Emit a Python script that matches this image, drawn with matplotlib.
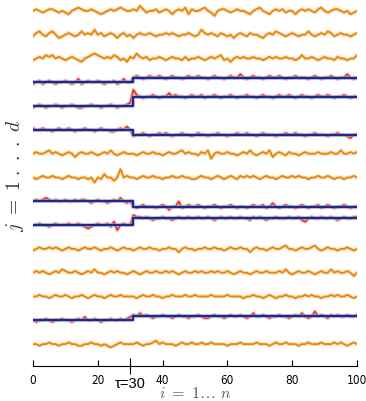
import matplotlib
matplotlib.use("Agg")
import matplotlib.pyplot as plt
import numpy as np

plt.rcParams['mathtext.fontset'] = 'cm'

# change point and x ticks
tau = 30
xticks = [0, 20, 40, 60, 80, 100]

# rows that have a change in mean (0 = top row) and their mean after tau
change_rows = [3, 4, 5, 8, 9, 13]
mean_after = [0.2, 0.4, -0.2, -0.22, 0.28, 0.16]

# noise, one list per row (top to bottom)
row01 = [0, 1, 0, -1, 0, 1, 1, 0, -1, 0, -1, -2, 0, 1, 2, 1, 0, 0, 1, 0,
         -1, -2, -1, 0, 1, 0, 1, 2, 1, 0, 0, 1, 0, 3, 1, -1, 0, 0, 1, -1,
         0, 1, 0, -2, 0, 1, 0, 2, -2, 1, 0, 0, 1, 2, 0, -1, -3, 0, 1, 1,
         0, -1, 0, 1, 0, 0, -1, -2, 0, 1, 2, 0, -1, -2, 0, 1, 0, 1, -1, 0,
         0, -2, 0, 1, 0, 1, 0, -1, 1, 2, 0, -1, 0, 1, 1, 0, -1, 0, -2, -1, 0]
row02 = [-1, 1, 2, 0, -1, 1, 2, 0, -2, -1, 0, 1, 0, -1, 0, 2, 0, 1, 0, 3,
         0, 1, -1, 0, 1, 0, -2, 0, 1, -1, 0, -2, 0, 1, 0, 0, 1, 0, -1, 0,
         0, 1, 0, 1, 0, -1, 0, 0, 1, 0, -1, 0, 3, 1, 0, 1, 0, -1, 1, 0,
         -1, 0, -2, 0, 1, 0, -1, 1, 0, 0, -1, -2, 0, 1, 0, 2, 1, 0, -1, 0,
         1, 0, -1, 0, 0, 2, 0, -1, 0, 1, 0, 2, 1, -1, 0, 1, 0, 0, -1, 0, 1]
row03 = [-1, 0, 1, 0, 2, 1, 2, 0, 1, 0, -1, 0, 1, 0, -1, -2, 0, 1, 2, 3,
         2, 1, 0, 1, 0, 2, 1, -1, 0, -2, 1, 0, 3, 1, 0, 1, -1, 0, 0, 1,
         0, -1, 0, 1, 0, 0, -1, 1, -1, 0, 0, 1, 0, -1, 0, 1, 0, 1, 2, -1,
         0, -2, 0, 1, 0, 1, 0, 0, 1, 0, 0, -1, 0, 1, 0, 1, 0, 0, 1, 0,
         0, -1, 0, 2, 0, 0, 1, 0, -1, 0, 1, 0, 0, -1, 1, 0, 0, -1, 0, 0, 2]
row04 = [-1, 0, 1, -1, 0, 1, 0, -1, 0, 0, 1, 0, -1, 0, 2, -1, 0, 1, 0, 0,
         1, 0, -1, 0, 0, 1, -1, 0, 2, 0, 0, 0, 1, 0, -1, 0, 1, 0, 0, 1,
         0, -1, 0, 1, 0, 0, -1, 0, 1, 0, 0, 1, 0, 0, -1, 0, 1, 0, 0, -1,
         0, 1, 0, 0, 2, 0, -1, 0, 1, 0, 0, -1, 0, 1, 0, 0, 1, 0, -1, 0,
         0, 1, 0, 0, 0, -1, 0, 1, 0, -1, 0, 0, 1, 0, -1, 0, 0, 2, 0, -1, 0]
row05 = [-1, 0, 1, 0, -1, 0, 0, 1, 0, -1, 0, 0, 1, 0, -1, -1, 0, 0, 1, 0,
         0, -1, 0, 0, 1, 0, -1, 0, 0, 1, 2, 4, 1, 0, -1, 0, 0, 1, 0, -1,
         0, 0, 2, 0, 1, 0, 0, -1, 0, 1, 0, 0, 1, -1, 0, 0, 1, 0, -1, 0,
         0, 1, 0, -1, 0, 0, 1, 0, 0, -1, 0, 1, 0, 0, -1, 0, 1, 0, 0, 1,
         0, -1, 0, 1, 0, 0, -1, 0, 1, 0, 0, 1, 0, -1, 0, 0, 1, 0, -1, 0, 0]
row06 = [1, 0, 0, 1, 0, 0, -1, 0, 1, 0, 0, 1, 0, -1, 0, 0, 1, 0, 0, -1,
         0, 1, 0, 0, -1, -1, 0, 1, 0, 2, 0, -1, 0, 0, 1, 0, -1, 0, 0, 1,
         0, 1, 0, -1, 0, 0, 1, 0, 0, -1, 0, 1, 0, 0, -1, 0, 0, 1, 0, 0,
         -1, 0, 0, 1, 0, 0, 1, 0, 0, -1, 0, 1, 0, 0, 0, -1, 0, 0, 1, 0,
         0, 1, 0, 0, -1, 0, 0, 1, 0, 0, 0, -1, 0, 0, 1, 0, 0, -1, -2, 0, 0]
row07 = [0, 1, 0, 0, 1, 2, 0, 1, 0, -1, 0, 1, 0, -2, 0, 1, 0, 0, 1, 0,
         -1, 0, 1, 0, 2, 0, -1, 0, 1, 0, 0, 0, -1, 0, 1, 0, 0, 1, 0, 0,
         -1, 0, 1, 0, 0, 1, 2, 0, 1, 0, 0, -1, 1, 0, 2, -3, 0, 1, 0, 0,
         1, 0, 0, -1, 0, 1, 0, 2, 0, -1, 0, 1, 0, 2, -2, 0, 1, 0, -1, 1,
         0, 0, -1, 0, 1, 0, 0, 0, 1, 0, 0, 0, 1, 0, 0, 2, 0, 0, 1, 0, 1]
row08 = [0, -1, 0, 1, 0, 0, 1, 0, 0, -1, 0, 1, 0, 0, -1, 0, 0, -1, 0, -3,
         0, -1, 2, 0, 0, -2, 0, 5, 0, 1, 0, 0, -1, 0, 1, 0, 0, 1, 0, 0,
         -1, 0, 0, 1, 0, 0, 1, 0, 0, -1, -1, 0, 1, 0, 0, -1, 0, 1, 0, -1,
         0, 1, 0, -1, 1, 0, 1, 0, 1, 0, -1, 0, 1, 0, 0, -1, 0, 1, 0, 0,
         1, 0, 1, 0, 0, -1, 0, 0, 1, 0, 0, 1, 0, -1, 0, 0, -1, 0, 0, 1, 0]
row09 = [0, 1, 0, 1, 2, 1, 0, 1, 0, 0, 1, 0, 0, 1, 0, 1, 1, 0, -1, 0,
         1, 0, 0, -1, 0, 1, 0, 2, 0, -1, 0, 0, -1, 0, 1, 0, 0, 0, -1, 0,
         1, 0, -2, 0, 0, 3, -1, 0, 1, 0, 0, 1, 0, -1, 0, 0, 1, 0, -1, 0,
         0, 1, 0, -1, 0, 0, -1, 0, 1, 0, 0, 1, -1, 0, 2, 0, -1, 0, 1, 0,
         0, -1, 0, 1, 0, -1, 0, 0, 1, -1, 0, 1, 0, -1, 0, 0, 1, 0, -1, 0, 0]
row10 = [0, 0, 1, 0, 0, -1, 0, 1, 0, 0, 0, 1, 0, 0, 1, 0, -1, -2, -1, 0,
         1, 0, 0, 1, -1, 2, -3, 0, 1, 0, 0, 2, 1, 1, 0, 1, 0, -1, 0, 0,
         1, 0, 0, -1, 0, 1, 0, 0, 1, 0, 0, 1, 0, 0, 1, 0, -1, 0, 1, 0,
         0, 1, 0, 0, 1, 0, 0, -1, 1, 0, 1, 0, -1, 0, 0, 1, 0, 0, 0, 1,
         0, 0, 1, -1, -2, 0, 1, 0, 0, 1, 0, 0, 1, 0, -1, 0, 1, 0, 0, 1, 1]
row11 = [-1, 0, 1, 0, 0, 1, 0, 1, 0, -1, 0, 1, 0, 0, -1, 0, 1, 0, 0, 1,
         0, -1, 0, 0, 1, 0, -1, 0, 1, 0, 0, -1, 0, 1, 0, 0, 1, 0, 0, -1,
         0, 0, 1, 0, 0, -2, 0, 1, 0, 0, -1, 0, 0, 1, 0, 0, 1, 0, 0, -1,
         0, 1, 0, 0, 1, 0, 0, -2, 0, 1, 0, 0, -1, 0, 1, 0, 0, 1, 2, 0,
         0, -1, 0, 1, 0, 0, 1, 2, 0, -1, 0, 1, 0, 0, -1, 0, 0, 1, 0, -1, 0]
row12 = [0, 1, 0, 1, 0, -1, 0, 1, 0, 2, 1, 0, 0, 1, 0, -1, 0, 1, 0, 2,
         0, 0, -1, 0, 1, 0, 1, 0, 0, -1, 0, 1, 0, -1, 0, 1, 0, 0, 1, 0,
         0, 1, 0, 1, 0, -1, 0, 1, 0, 0, 1, 0, 1, 0, 0, 1, 0, 1, 0, 0,
         1, 0, -1, 0, 1, 0, 0, -1, 0, 1, 0, 0, 1, 0, 0, 0, 1, 0, 2, 0,
         -1, 0, 1, 0, 0, 1, 0, -1, 0, 1, 0, 0, 2, 0, 1, 0, 0, 1, 0, -2, 0]
row13 = [0, 0, 1, 0, 0, -1, 0, 1, 0, 0, 1, 0, -1, 0, 0, 1, 0, -1, 0, 1,
         0, 0, -1, 0, 1, 0, 0, 1, 0, 0, 0, 0, -1, 0, 1, 0, 0, 1, 0, 0,
         -1, 0, 0, 1, 0, 0, 0, 1, 0, 0, 1, 0, 0, 0, 0, 1, 0, 0, 0, 0,
         1, 0, 0, 0, 0, -1, 0, 0, 1, 0, 0, -1, 0, 1, 0, -1, 0, 0, 1, 0,
         0, -1, 0, 0, 1, 0, 1, 0, 0, -1, 0, 0, 1, 0, 1, 0, 0, 1, 0, -1, 0]
row14 = [0, -1, 0, 0, 1, 0, -1, 0, 0, 1, 0, 0, -1, 0, 1, 0, 2, 0, 0, 1,
         0, -1, 0, 0, 1, 0, 0, 1, 0, 1, 2, 1, 0, 2, 0, 1, 0, -1, 0, 0,
         1, 0, 0, -1, 0, 1, 0, 0, -1, 0, 0, 1, 0, -1, -1, 0, 1, 0, 0, -1,
         0, 1, 0, 0, 1, 0, -1, 0, 2, 0, 0, 1, 0, -1, 0, 0, 1, 0, 0, -1,
         0, 1, 0, 2, 0, -1, 0, 3, 0, 1, 0, -1, 1, 0, 1, 0, 0, 1, 0, 0, 1]
row15 = [0, 0, -1, 0, 0, 1, 0, 0, -1, 0, 0, 1, 0, 0, -1, -1, 0, 0, 1, 0,
         0, -1, 0, -1, -2, -1, 0, 1, 0, 0, 0, 0, 1, 0, -1, 0, 0, 1, 2, 0,
         1, 0, 0, 0, -1, 0, 1, 0, 0, 1, 0, 0, 1, 0, 0, 1, 0, 0, 0, 0,
         -1, 0, 0, 0, 1, 0, 0, 0, 0, 1, 0, 0, 0, -1, 0, 1, 0, 0, 1, 0,
         0, 0, -1, 0, 0, 1, 0, 0, 0, 1, 0, 0, 0, 1, 0, 1, 0, -1, 0, 1, 0]

rows = [row01, row02, row03, row04, row05, row06, row07, row08,
        row09, row10, row11, row12, row13, row14, row15]

noise_scale = 0.07
orange, orange_halo = "#E8870E", "#F6C88A"
red, red_halo = "#E2341C", "#F3A595"
blue, blue_halo = "#1B2A8C", "#A9B3DC"

fig = plt.figure(figsize=(3.66, 4.02), dpi=100)
ax = fig.add_axes([33 / 366, 35 / 402, 324 / 366, 367 / 402])

for k, r in enumerate(rows):
    x = np.arange(len(r))
    base = -k * np.ones(len(r))
    if k in change_rows:
        m = mean_after[change_rows.index(k)]
        base[x > tau] = -k + m
        y = base + np.array(r) * noise_scale
        ax.plot(x, y, color=red_halo, lw=2.8, alpha=0.6, solid_joinstyle="round")
        ax.plot(x, y, color=red, lw=1.2, solid_joinstyle="round")
        ax.plot([0, tau + 1, 100], [-k, -k + m, -k + m], drawstyle="steps-post",
                color=blue_halo, lw=3, alpha=0.6)
        ax.plot([0, tau + 1, 100], [-k, -k + m, -k + m], drawstyle="steps-post",
                color=blue, lw=1.6)
    else:
        y = base + np.array(r) * noise_scale
        ax.plot(x, y, color=orange_halo, lw=2.8, alpha=0.6, solid_joinstyle="round")
        ax.plot(x, y, color=orange, lw=1.3, solid_joinstyle="round")

ax.set_xlim(0, 100)
ax.set_ylim(-14.92, 0.5)
ax.spines[['left', 'right', 'top']].set_visible(False)
ax.spines['bottom'].set_bounds(0, 100)
ax.spines['bottom'].set_linewidth(0.8)
ax.set_yticks([])
ax.set_xticks(xticks)
ax.set_xticklabels([str(t) for t in xticks], family=['Liberation Sans Narrow', 'DejaVu Sans'],
                   fontsize=8.5, fontstretch='condensed')
ax.tick_params(axis='x', direction='in', length=4, width=0.8, pad=5)

# extra tick at tau
ax.set_xticks([tau], minor=True)
ax.tick_params(axis='x', which='minor', direction='inout', length=12, width=0.8)
ax.annotate("τ=30", xy=(tau, 0), xycoords=('data', 'axes fraction'), xytext=(0, -12),
            textcoords='offset points', ha='center', va='center', fontsize=10.5,
            family='Liberation Sans')

ax.set_xlabel(r"$i\ =\ 1\ldots\ n$", fontsize=11.5, color="#555555", labelpad=-1)
fig.text(15 / 366, 1 - 176 / 402, r"$j\ =\ 1\ .\ .\ .\ d$", rotation=90, fontsize=14,
         ha='center', va='center', color="#333333")

plt.savefig("out.png", dpi=100)
